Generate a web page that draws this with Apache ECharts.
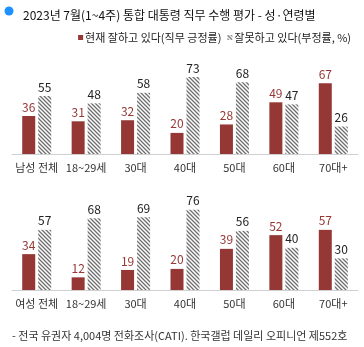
<!DOCTYPE html>
<html><head><meta charset="utf-8">
<script src="https://cdn.jsdelivr.net/npm/echarts@6/dist/echarts.min.js"></script>
<style>html,body{margin:0;padding:0;background:#fff}#c{width:364px;height:347px}</style>
</head><body><div id="c"></div>
<script>
const maleCats = ['남성 전체','18~29세','30대','40대','50대','60대','70대+'];
const femaleCats = ['여성 전체','18~29세','30대','40대','50대','60대','70대+'];
const malePositive = [36,31,32,20,28,49,67];
const maleNegative = [55,48,58,73,68,47,26];
const femalePositive = [34,12,19,20,39,52,57];
const femaleNegative = [57,68,69,76,56,40,30];
const posName = '현재 잘하고 있다(직무 긍정률)';
const negName = '잘못하고 있다(부정률, %)';
const titleText = '2023년 7월(1~4주) 통합 대통령 직무 수행 평가 - 성·연령별';
const footText = '- 전국 유권자 4,004명 전화조사(CATI). 한국갤럽 데일리 오피니언 제552호';

const FONT = '"Noto Sans CJK KR", "Noto Sans", sans-serif';
const RED = '#953735';

const cv = document.createElement('canvas');
cv.width = 4; cv.height = 4;
const cx = cv.getContext('2d');
cx.fillStyle = '#fff'; cx.fillRect(0,0,4,4);
cx.strokeStyle = '#6e6e6e'; cx.lineWidth = 1.3;
cx.beginPath();
cx.moveTo(0,0); cx.lineTo(4,4);
cx.moveTo(-2,2); cx.lineTo(2,6);
cx.moveTo(2,-2); cx.lineTo(6,2);
cx.stroke();
const hatch = {image: cv, repeat: 'repeat'};

const grids = [
  {left: 12, right: 6, top: 48.5, height: 105.5},
  {left: 12, right: 6, top: 184.5, height: 105.5}
];
function xAxes(cats, gi) {
  return [
    {type: 'category', data: cats, gridIndex: gi,
     axisLine: {lineStyle: {color: '#d0d0d0'}},
     axisTick: {length: 4, lineStyle: {color: '#d0d0d0'}},
     axisLabel: {color: '#333', fontSize: 11, fontFamily: FONT, margin: 8, interval: 0}},
    {type: 'category', data: cats, gridIndex: gi, position: 'bottom', offset: -10,
     axisLine: {show: false},
     axisTick: {length: 22, lineStyle: {color: '#999'}, interval: function(i){ return i === 1; }},
     axisLabel: {show: false}}
  ];
}
const xa = xAxes(maleCats, 0).concat(xAxes(femaleCats, 1));
const ya = [0,1].map(gi => ({type: 'value', gridIndex: gi, min: 0, max: 100, show: false}));

function mk(name, data, gi, pos) {
  return {
    name: name, type: 'bar', data: data, xAxisIndex: gi*2, yAxisIndex: gi,
    barWidth: 13, barGap: '23%',
    itemStyle: {color: pos ? RED : hatch},
    label: {show: true, position: 'top', distance: 3, fontSize: 12, fontFamily: FONT,
            color: pos ? RED : '#222'}
  };
}

const chart = echarts.init(document.getElementById('c'), null, {renderer: 'canvas'});
chart.setOption({
  animation: false,
  backgroundColor: '#fff',
  title: [
    {text: titleText, left: 18, top: 4,
     textStyle: {fontSize: 12, fontWeight: 'normal', color: '#111', fontFamily: FONT}},
    {text: footText, left: 7, top: 325,
     textStyle: {fontSize: 11, fontWeight: 'normal', color: '#333', fontFamily: FONT}}
  ],
  legend: {right: 8, top: 27, itemWidth: 5, itemHeight: 5, itemGap: 6, icon: 'rect',
           textStyle: {fontSize: 11, color: '#222', fontFamily: FONT, padding: [0,0,0,-3]},
           data: [posName, negName]},
  graphic: [{type: 'circle', shape: {cx: 9, cy: 11, r: 4.5}, style: {fill: '#1e90ff'}}],
  grid: grids,
  xAxis: xa,
  yAxis: ya,
  series: [
    mk(posName, malePositive, 0, true),
    mk(negName, maleNegative, 0, false),
    mk(posName, femalePositive, 1, true),
    mk(negName, femaleNegative, 1, false)
  ]
});
</script>
</body></html>
